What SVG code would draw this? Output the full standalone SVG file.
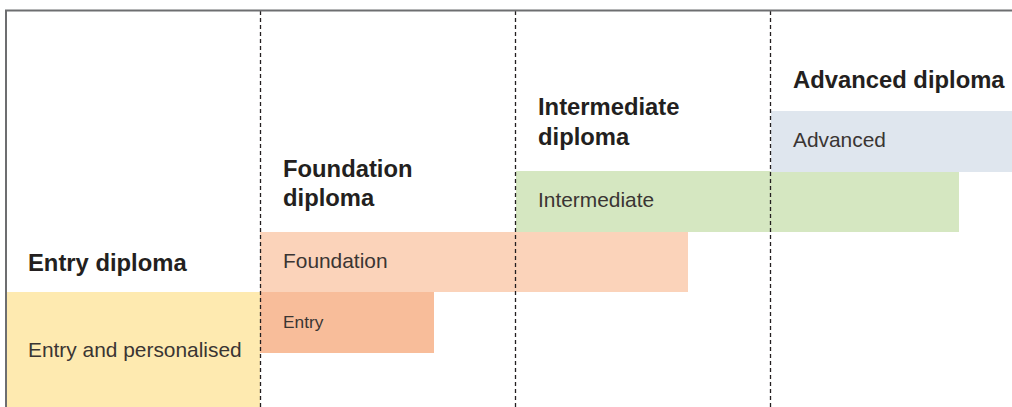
<svg xmlns="http://www.w3.org/2000/svg" width="1012" height="407" viewBox="0 0 1012 407">
<style>
.h{font-family:"Liberation Sans",Arial,sans-serif;font-weight:bold;font-size:23.8px;fill:#231f20}
.t{font-family:"Liberation Sans",Arial,sans-serif;font-size:20.9px;fill:#3a3533}
.grid{stroke:#231f20;stroke-width:1.3;stroke-dasharray:4 3;fill:none}
.frame{stroke:#6d6e70;stroke-width:2;fill:none}
</style>
<rect width="1012" height="407" fill="#fff"/>
<g id="entry-personalised"><rect x="7" y="292" width="253" height="115" fill="#feeab0"/><text class="t" x="28" y="357">Entry and personalised</text></g>
<g id="foundation"><rect x="260" y="232" width="428" height="60" fill="#fbd3ba"/><text class="t" x="283" y="268">Foundation</text></g>
<g id="entry"><rect x="260" y="292" width="174" height="61" fill="#f8bd9a"/><text class="t" x="283" y="328" style="font-size:17.3px">Entry</text></g>
<g id="intermediate"><rect x="516" y="171" width="443" height="61" fill="#d5e7c1"/><text class="t" x="538" y="207">Intermediate</text></g>
<g id="advanced"><rect x="771" y="111" width="241" height="61" fill="#dfe6ee"/><text class="t" x="793" y="147">Advanced</text></g>
<g id="headings">
<text class="h" x="28" y="271">Entry diploma</text>
<text class="h" x="283" y="177">Foundation</text><text class="h" x="283" y="206">diploma</text>
<text class="h" x="538" y="115">Intermediate</text><text class="h" x="538" y="145">diploma</text>
<text class="h" x="793" y="88">Advanced diploma</text>
</g>
<g id="connectors">
<line class="grid" x1="260.5" y1="11" x2="260.5" y2="407"/>
<line class="grid" x1="515.5" y1="11" x2="515.5" y2="407"/>
<line class="grid" x1="770.5" y1="11" x2="770.5" y2="407"/>
<path class="frame" d="M6,407 V10.5 H1012"/>
</g>
</svg>
